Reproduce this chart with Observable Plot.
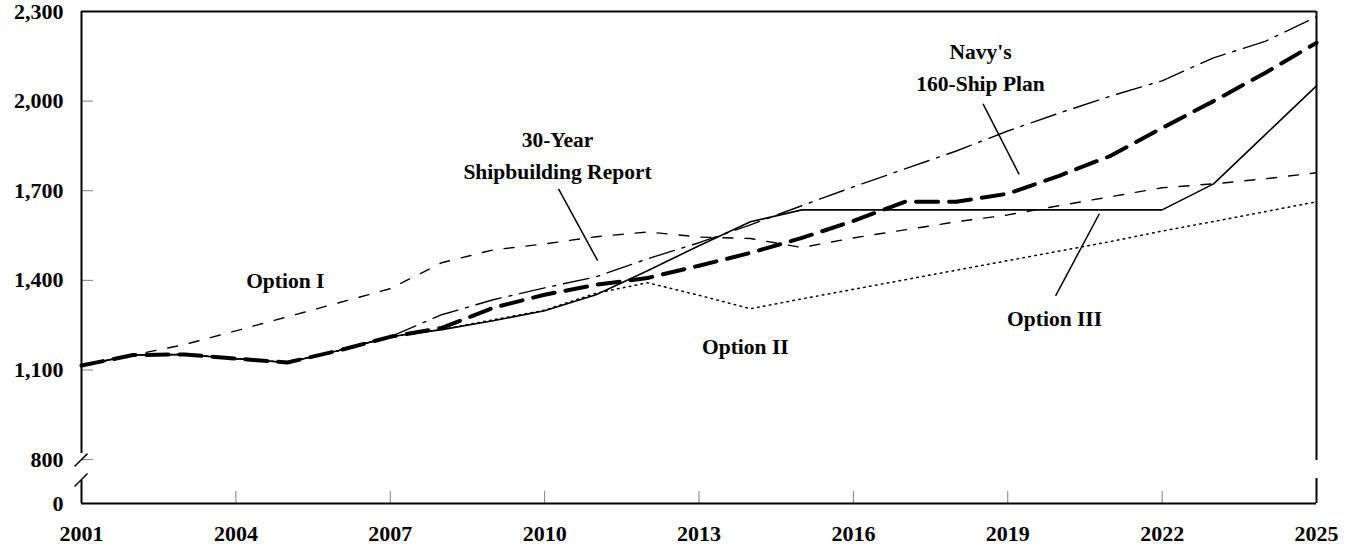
<!DOCTYPE html>
<html>
<head>
<meta charset="utf-8">
<script src="https://cdn.jsdelivr.net/npm/d3@7"></script>
<script src="https://cdn.jsdelivr.net/npm/@observablehq/plot@0.6"></script>
<style>
  html, body { margin: 0; padding: 0; background: #fff; }
</style>
</head>
<body>
<div id="chart"></div>
<script>
// ---- Data ----
const years = [2001, 2002, 2003, 2004, 2005, 2006, 2007, 2008, 2009, 2010, 2011, 2012, 2013,
               2014, 2015, 2016, 2017, 2018, 2019, 2020, 2021, 2022, 2023, 2024, 2025];

const optionI   = [1115, 1150, 1185, 1231, 1278, 1325, 1372, 1459, 1502, 1522, 1546, 1562, 1545,
                   1540, 1510, 1542, 1569, 1596, 1619, 1650, 1680, 1710, 1723, 1740, 1760];
const optionII  = [1115, 1150, 1152, 1138, 1125, 1165, 1211, 1235, 1268, 1300, 1357, 1392, 1350,
                   1305, 1338, 1370, 1402, 1434, 1466, 1498, 1530, 1565, 1597, 1630, 1663];
const optionIII = [1115, 1150, 1152, 1138, 1125, 1165, 1211, 1235, 1265, 1298, 1352, 1432, 1516,
                   1596, 1636, 1636, 1636, 1636, 1636, 1636, 1636, 1636, 1723, 1887, 2051];
const navyPlan  = [1115, 1150, 1152, 1138, 1125, 1165, 1211, 1241, 1308, 1352, 1385, 1408, 1449,
                   1492, 1542, 1599, 1663, 1663, 1690, 1750, 1817, 1910, 2000, 2094, 2195];
const report30  = [1115, 1150, 1152, 1138, 1125, 1165, 1211, 1285, 1335, 1375, 1412, 1472, 1526,
                   1586, 1650, 1713, 1773, 1833, 1900, 1960, 2017, 2068, 2145, 2200, 2282];

const yTickLabels = [0, 800, 1100, 1400, 1700, 2000, 2300];
const yTickMarks  = [800, 1100, 1400, 1700, 2000];
const xTickLabels = [2001, 2004, 2007, 2010, 2013, 2016, 2019, 2022, 2025];
const xTickMarks  = [2004, 2007, 2010, 2013, 2016, 2019, 2022];

// annotation labels (data space)
const labels = [
  {x: 2004.96, y: 1409, text: "Option I"},
  {x: 2010.25, y: 1826, text: "30-Year\nShipbuilding Report"},
  {x: 2018.47, y: 2121, text: "Navy's\n160-Ship Plan"},
  {x: 2013.9,  y: 1188, text: "Option II"},
  {x: 2019.91, y: 1282, text: "Option III"}
];
const leaders = [
  {x1: 2010.27, y1: 1706, x2: 2011.03, y2: 1466},
  {x1: 2018.52, y1: 1991, x2: 2019.22, y2: 1755},
  {x1: 2020.78, y1: 1623, x2: 2019.93, y2: 1348}
];

// axis frame with breaks (data space)
const leftAxis  = [{x: 2001, y1: 820, y2: 2300}, {x: 2001, y1: 0, y2: 418}];
const rightAxis = [{x: 2025, y1: 782, y2: 2300}, {x: 2025, y1: 0, y2: 455}];
const slashes = [
  {x1: 2000.864, y1: 673, x2: 2001.117, y2: 820},
  {x1: 2000.864, y1: 309, x2: 2001.117, y2: 545}
];

// broken axis: 0–800 is compressed to the height of ~147 units above the break
const breakAt = 800, lowSpan = 147;
const yBreak = v => v >= breakAt ? v : (breakAt - lowSpan) + v * lowSpan / breakAt;

const font = "'Liberation Serif', 'Times New Roman', Times, serif";

const chart = Plot.plot({
  width: 1351,
  height: 546,
  marginLeft: 81,
  marginRight: 35,
  marginTop: 11,
  marginBottom: 43,
  style: {fontFamily: font, fontSize: "21.5px", fontWeight: "bold", background: "#fff", color: "#000", overflow: "visible"},
  x: {domain: [2001, 2025], axis: null},
  y: {transform: yBreak, domain: [breakAt - lowSpan, 2300], axis: null},
  marks: [
    // tick marks (inside)
    Plot.tickY(yTickMarks, {y: d => d, insetRight: 1223, stroke: "#808080", strokeWidth: 1}),
    Plot.tickX(xTickMarks, {x: d => d, insetTop: 480, stroke: "#808080", strokeWidth: 1}),
    // data lines
    Plot.line(years, {x: years, y: optionII,  stroke: "#000", strokeWidth: 1.5, strokeDasharray: "1.6,4.4"}),
    Plot.line(years, {x: years, y: optionI,   stroke: "#000", strokeWidth: 1.4, strokeDasharray: "10,12"}),
    Plot.line(years, {x: years, y: report30,  stroke: "#000", strokeWidth: 1.4, strokeDasharray: "26,8,3,8"}),
    Plot.line(years, {x: years, y: optionIII, stroke: "#000", strokeWidth: 1.6}),
    Plot.line(years, {x: years, y: navyPlan,  stroke: "#000", strokeWidth: 4, strokeDasharray: "22,11"}),
    // frame
    Plot.ruleY([2300], {stroke: "#000", strokeWidth: 2}),
    Plot.ruleY([0], {stroke: "#000", strokeWidth: 2}),
    Plot.ruleX(leftAxis, {x: "x", y1: "y1", y2: "y2", stroke: "#000", strokeWidth: 2}),
    Plot.ruleX(rightAxis, {x: "x", y1: "y1", y2: "y2", stroke: "#000", strokeWidth: 2}),
    Plot.link(slashes, {x1: "x1", y1: "y1", x2: "x2", y2: "y2", stroke: "#000", strokeWidth: 1.5}),
    // axes labels
    Plot.axisY(yTickLabels, {anchor: "left", tickSize: 0, tickPadding: 18, tickFormat: d3.format(","), label: null, fontSize: 22, fontWeight: "bold"}),
    Plot.axisX(xTickLabels, {anchor: "bottom", tickSize: 0, tickPadding: 22, tickFormat: d => String(d), label: null, fontSize: 22, fontWeight: "bold"}),
    // annotations
    Plot.link(leaders, {x1: "x1", y1: "y1", x2: "x2", y2: "y2", stroke: "#000", strokeWidth: 1.5}),
    Plot.text(labels, {x: "x", y: "y", text: "text", lineHeight: 1.45, fontSize: 21.5, fontWeight: "bold", fill: "#000"})
  ]
});

document.getElementById("chart").appendChild(chart);
</script>
</body>
</html>
